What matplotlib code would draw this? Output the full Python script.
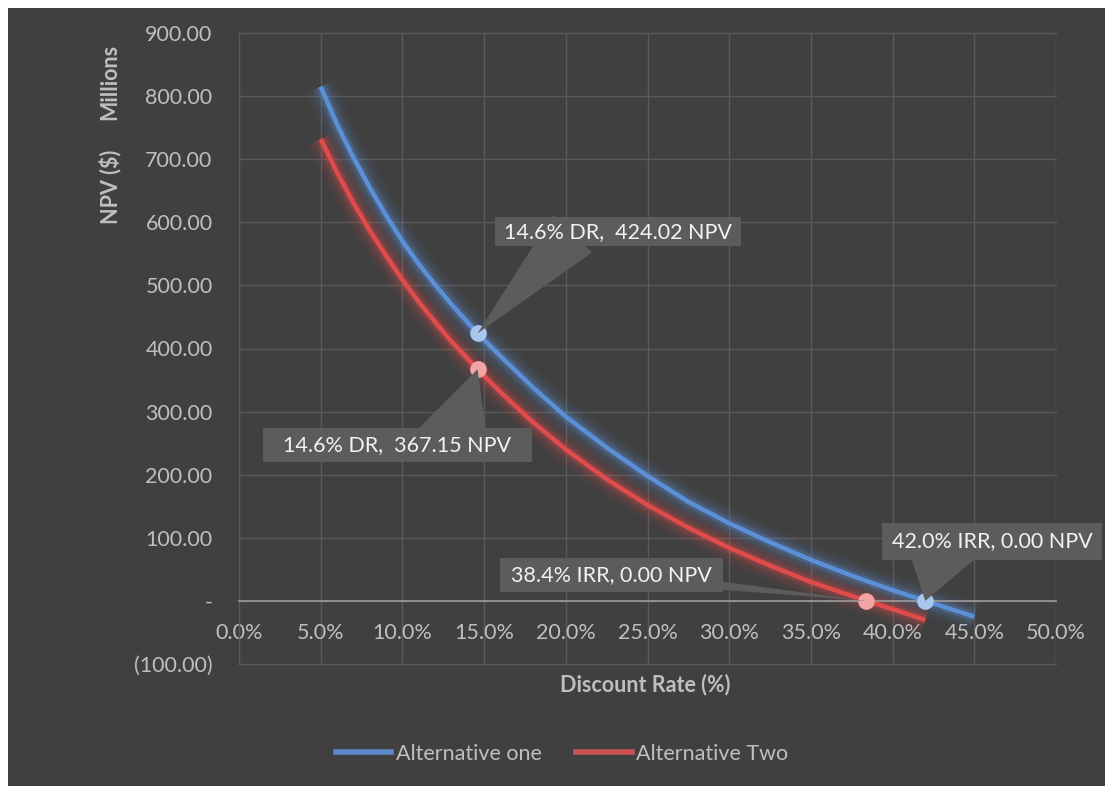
import matplotlib.pyplot as plt
import numpy as np
from matplotlib.patches import Rectangle
from matplotlib.lines import Line2D
from matplotlib.path import Path

plt.rcParams['font.family'] = ['Lato', 'DejaVu Sans']

# discount rate (%) vs NPV (millions $)
rate_one = [5, 6, 7, 8, 9, 10, 11, 12, 13, 14.6, 16, 18, 20, 22.5, 25, 27.5,
            30, 32.5, 35, 37.5, 40, 42, 45]
npv_one = [815, 755, 703, 655, 611, 570, 534, 501, 470, 424.02, 388, 338, 292, 243, 198, 157,
           123, 93, 65, 40, 17, 0, -25]

rate_two = [5, 6, 7, 8, 9, 10, 11, 12, 13, 14.6, 16, 18, 20, 22.5, 25, 27.5,
            30, 32.5, 35, 38.4, 40, 42]
npv_two = [732, 679, 631, 587, 547, 509, 474, 442, 411, 367.15, 331, 283, 240, 193, 152, 116,
           84, 56, 30, 0, -13, -30]

# highlighted points: (rate, npv, text, text position, wedge start, wedge width, box pads)
callouts_one = [
    (14.6, 424.02, '14.6% DR,  424.02 NPV', (23.2, 585), (0.30, 0.4), 1.95, (0.42, 0.2)),
    (42.0, 0.00, '42.0% IRR, 0.00 NPV', (46.1, 94), (0.25, 0.5), 3.0, (0.45, 0.38)),
]
callouts_two = [
    (14.6, 367.15, '14.6% DR,  367.15 NPV', (9.7, 247), (0.74, 0.5), 2.85, (0.95, 0.32)),
    (38.4, 0.00, '38.4% IRR, 0.00 NPV', (22.8, 41), (0.97, 0.05), 0.32, (0.5, 0.32)),
]

x_ticks = np.arange(0, 51, 5)
y_ticks = np.arange(-100, 901, 100)
x_labels = [f'{v:.1f}%' for v in x_ticks]
y_labels = ['(100.00)', '-'] + [f'{v:.2f}' for v in y_ticks[2:]]

bg = '#404040'
grid_c = '#5a5a5a'
text_c = '#bfbfbf'
box_c = '#5c5c5c'
blue = '#5b8fd8'
red = '#e04c4c'
fs = 15.5


def box(pad_x, pad_y):
    # plain rectangle with separate horizontal / vertical padding
    def shape(x0, y0, width, height, mutation_size):
        px, py = pad_x * mutation_size, pad_y * mutation_size
        x0, y0 = x0 - px, y0 - py
        x1, y1 = x0 + width + 2 * px, y0 + height + 2 * py
        return Path([(x0, y0), (x1, y0), (x1, y1), (x0, y1), (x0, y0)], closed=True)
    return shape


W, H = 1105, 786
fig = plt.figure(figsize=(W / 100, H / 100), dpi=100, facecolor='white')
fig.patches.append(Rectangle((8 / W, 0), 1, 1 - 8 / H, transform=fig.transFigure,
                             fc=bg, ec='none', zorder=-10))

ax = fig.add_axes([239 / W, 1 - 664 / H, (1056 - 239) / W, (664 - 33) / H])
ax.set_facecolor(bg)
ax.set_xlim(0, 50)
ax.set_ylim(-100, 900)

ax.set_xticks(x_ticks)
ax.set_xticklabels(x_labels)
ax.set_yticks(y_ticks)
ax.set_yticklabels(y_labels)
ax.tick_params(axis='both', length=0, labelsize=fs, labelcolor=text_c)
ax.tick_params(axis='x', pad=16)
ax.tick_params(axis='y', pad=19)
ax.grid(True, color=grid_c, linewidth=1)
for gl in ax.get_xgridlines() + ax.get_ygridlines():
    gl.set_clip_on(False)
ax.set_axisbelow(True)

ax.spines['top'].set_visible(False)
ax.spines['right'].set_visible(False)
ax.spines['left'].set_color(grid_c)
ax.spines['bottom'].set_position(('data', 0))
ax.spines['bottom'].set_color('#9a9a9a')
ax.spines['bottom'].set_linewidth(1.2)

# soft glow under each curve
for rate, npv, col in [(rate_one, npv_one, blue), (rate_two, npv_two, red)]:
    for lw, a in [(22, 0.05), (16, 0.08), (11, 0.13), (7, 0.22)]:
        ax.plot(rate, npv, color=col, lw=lw, alpha=a, solid_capstyle='butt',
                solid_joinstyle='round', zorder=2)

ax.plot(rate_one, npv_one, color=blue, lw=3.2, solid_capstyle='butt', zorder=3)
ax.plot(rate_two, npv_two, color=red, lw=3.2, solid_capstyle='butt', zorder=3)

for calls, mcol in [(callouts_one, '#a9c6ee'), (callouts_two, '#f2a3a3')]:
    for r, v, txt, pos, rp, tw, pads in calls:
        ax.plot(r, v, 'o', ms=12, mfc=mcol, mec='none', zorder=4)
        ax.annotate(txt, xy=(r, v), xytext=pos, textcoords='data',
                    ha='center', va='center', fontsize=fs, color='#f2f2f2',
                    bbox=dict(boxstyle=box(*pads), fc=box_c, ec='none'),
                    arrowprops=dict(arrowstyle=f'wedge,tail_width={tw},shrink_factor=0.5',
                                    fc=box_c, ec='none', relpos=rp, patchA=None,
                                    shrinkA=0, shrinkB=0, mutation_scale=20),
                    zorder=6)

fig.text(110 / W, 1 - 187 / H, 'NPV ($)', rotation=90, ha='center', va='center',
         fontsize=fs, fontweight='bold', color=text_c)
fig.text(110 / W, 1 - 82 / H, 'Millions', rotation=90, ha='center', va='center',
         fontsize=fs, fontweight='bold', color=text_c)
fig.text(645 / W, 1 - 685 / H, 'Discount Rate (%)', ha='center', va='center',
         fontsize=fs, fontweight='bold', color=text_c)

handles = [Line2D([], [], color='#5a88c8', lw=4), Line2D([], [], color='#cc5252', lw=4)]
fig.legend(handles, ['Alternative one', 'Alternative Two'], loc='center',
           bbox_to_anchor=(562 / W, 1 - 754 / H), ncol=2, frameon=False,
           handlelength=2.6, handletextpad=0.2, columnspacing=1.6,
           fontsize=fs, labelcolor=text_c)

fig.savefig('out.png', dpi=100, facecolor=fig.get_facecolor())
